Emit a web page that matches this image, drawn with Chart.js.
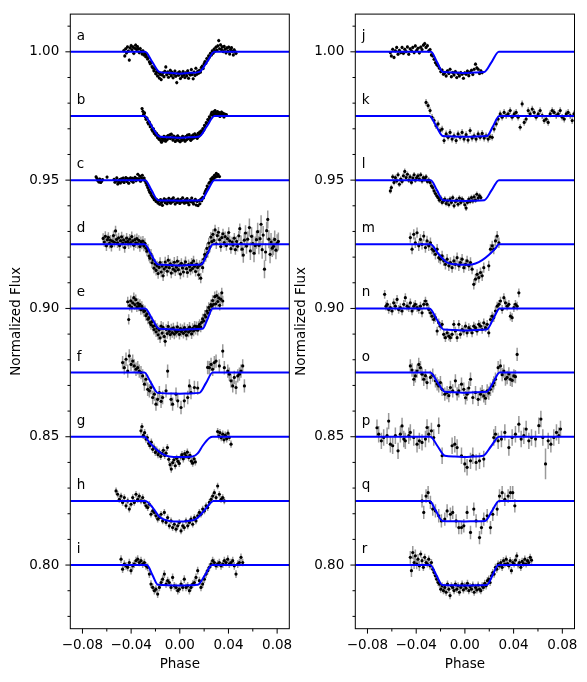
<!DOCTYPE html>
<html>
<head>
<meta charset="utf-8">
<script src="https://cdn.jsdelivr.net/npm/chart.js@4.4.1/dist/chart.umd.min.js"></script>
<style>
  body { margin: 0; background: #fff; width: 587px; height: 682px; position: relative; overflow: hidden; }
  canvas { position: absolute; top: 0; }
  #leftPanel { left: 0; }
  #rightPanel { left: 285px; }
</style>
</head>
<body>
<canvas id="leftPanel" width="300" height="682"></canvas>
<canvas id="rightPanel" width="302" height="682"></canvas>
<script>
// light curves: [phase, flux deviation in ppt, optional error in ppt]
const lettersLeft = ['a', 'b', 'c', 'd', 'e', 'f', 'g', 'h', 'i'];
const lettersRight = ['j', 'k', 'l', 'm', 'n', 'o', 'p', 'q', 'r'];
const curveOffsets = [0, 0.025, 0.05, 0.075, 0.1, 0.125, 0.15, 0.175, 0.2];
const errLeft = [0.7, 0.6, 0.6, 2.0, 2.0, 2.6, 1.4, 1.3, 1.5];
const errRight = [0.7, 1.3, 1.1, 2.0, 1.7, 2.6, 3.2, 2.6, 1.4];

const xMajorTicks = [-0.08, -0.04, 0, 0.04, 0.08];
const xTickLabels = ['−0.08', '−0.04', '0.00', '0.04', '0.08'];
const xMinorTicks = [-0.06, -0.02, 0.02, 0.06];
const yMajorTicks = [0.80, 0.85, 0.90, 0.95, 1.00];
const yTickLabels = ['0.80', '0.85', '0.90', '0.95', '1.00'];
const yMinorTicks = [0.78, 0.79, 0.81, 0.82, 0.83, 0.84, 0.86, 0.87, 0.88, 0.89, 0.91, 0.92, 0.93, 0.94, 0.96, 0.97, 0.98, 0.99, 1.01];

const lcA = [[-0.0460,0.5],[-0.0452,-1.6],[-0.0445,1.2],[-0.0438,-0.4],[-0.0430,1.9],[-0.0423,0.3],[-0.0415,-3.2],[-0.0408,1.5],[-0.0400,2.4],[-0.0393,0.8],[-0.0385,1.9],[-0.0378,-0.6],[-0.0370,1.4],[-0.0363,2.6],[-0.0355,0.9],[-0.0348,2.0],[-0.0340,1.1],[-0.0333,-0.3],[-0.0325,1.3],[-0.0318,0.2],[-0.0310,-0.8],[-0.0303,0.4],[-0.0295,-1.2],[-0.0288,-0.4],
[-0.0280,-1.9],[-0.0273,-1.0],[-0.0265,-2.8],[-0.0258,-2.2],[-0.0250,-3.9],[-0.0243,-4.6],[-0.0235,-4.1],[-0.0228,-5.8],[-0.0220,-6.3],[-0.0213,-7.4],[-0.0205,-6.6],[-0.0198,-8.5],[-0.0190,-7.7],[-0.0183,-9.4],[-0.0175,-8.1],[-0.0168,-10.2],[-0.0160,-8.8],[-0.0153,-10.8],[-0.0145,-9.0],
[-0.0138,-8.2],[-0.0130,-9.7],[-0.0123,-7.6],[-0.0115,-5.9],[-0.0108,-8.9],[-0.0100,-7.9],[-0.0093,-9.9],[-0.0085,-8.4],[-0.0078,-7.2],[-0.0070,-9.3],[-0.0063,-8.0],[-0.0055,-10.1],[-0.0048,-8.7],[-0.0040,-7.5],[-0.0033,-9.5],[-0.0025,-12.0],[-0.0018,-8.3],[-0.0010,-9.1],[-0.0003,-7.8],[0.0005,-10.4],[0.0012,-8.6],[0.0020,-9.6],[0.0027,-7.7],[0.0035,-8.9],[0.0042,-10.0],[0.0050,-8.2],[0.0057,-9.3],[0.0065,-7.4],[0.0072,-10.3],[0.0080,-8.5],[0.0087,-9.0],[0.0095,-6.9],[0.0102,-8.8],[0.0110,-10.5],[0.0117,-7.9],[0.0125,-9.2],[0.0132,-6.4],[0.0140,-8.7],[0.0147,-7.6],[0.0155,-8.3],
[0.0162,-7.2],[0.0170,-7.9],[0.0177,-6.1],[0.0185,-5.6],[0.0192,-6.5],[0.0200,-4.6],[0.0207,-3.8],[0.0215,-4.4],[0.0222,-2.6],[0.0230,-3.1],[0.0237,-1.6],[0.0245,-2.0],[0.0252,-0.6],[0.0260,-1.2],[0.0267,0.4],[0.0275,-0.5],[0.0282,1.1],
[0.0290,0.3],[0.0297,1.8],[0.0305,0.6],[0.0312,2.3],[0.0320,4.4],[0.0327,1.2],[0.0335,2.7],[0.0342,0.9],[0.0350,1.9],[0.0357,0.1],[0.0365,2.1],[0.0372,1.0],[0.0380,-0.4],[0.0387,1.5],[0.0395,0.3],[0.0402,1.8],[0.0410,-0.8],[0.0417,0.9],[0.0425,1.6],[0.0432,0.2],[0.0440,-1.2],[0.0447,0.8],[0.0455,0.1],[0.0462,-0.6]];

const lcB = [[-0.0310,2.9],[-0.0303,1.8],[-0.0297,0.7],[-0.0290,1.2],[-0.0283,-0.4],[-0.0277,-1.3],[-0.0270,-0.8],[-0.0263,-2.5],[-0.0257,-3.1],[-0.0250,-2.4],[-0.0243,-4.2],[-0.0237,-3.6],[-0.0230,-5.3],[-0.0223,-5.9],[-0.0217,-5.0],[-0.0210,-6.8],[-0.0203,-6.2],[-0.0197,-7.5],[-0.0190,-6.9],[-0.0183,-8.4],[-0.0177,-7.6],[-0.0170,-9.1],[-0.0163,-8.3],[-0.0157,-9.6],[-0.0150,-10.2],[-0.0143,-8.8],[-0.0137,-9.5],[-0.0130,-7.9],[-0.0123,-8.9],[-0.0117,-9.8],[-0.0110,-8.1],[-0.0103,-9.2],[-0.0097,-7.6],[-0.0090,-8.5],[-0.0083,-7.4],[-0.0077,-8.8],[-0.0070,-7.1],[-0.0063,-8.3],[-0.0057,-9.4],[-0.0050,-7.8],[-0.0043,-8.6],[-0.0037,-9.9],[-0.0030,-8.2],[-0.0023,-9.3],[-0.0017,-7.7],[-0.0010,-9.6],[-0.0003,-8.4],[0.0003,-10.0],[0.0010,-8.7],[0.0017,-9.5],[0.0023,-7.9],[0.0030,-9.1],[0.0037,-8.3],[0.0043,-9.8],[0.0050,-8.0],[0.0057,-9.2],[0.0063,-7.5],[0.0070,-8.8],[0.0077,-7.3],[0.0083,-8.6],[0.0090,-9.5],[0.0097,-7.8],[0.0103,-8.9],[0.0110,-7.4],[0.0117,-8.5],[0.0123,-7.0],[0.0130,-8.2],[0.0137,-7.6],[0.0143,-8.7],[0.0150,-6.8],[0.0157,-7.9],[0.0163,-6.3],[0.0170,-7.2],[0.0177,-5.8],[0.0183,-6.4],[0.0190,-4.9],[0.0197,-5.5],[0.0203,-3.7],[0.0210,-4.2],[0.0217,-2.6],[0.0223,-2.9],[0.0230,-1.4],[0.0237,-1.8],[0.0243,-0.3],[0.0250,-0.9],[0.0257,0.6],[0.0263,1.4],[0.0270,0.2],[0.0277,1.6],[0.0283,0.8],[0.0290,2.1],[0.0297,1.1],[0.0303,0.4],[0.0310,1.7],[0.0317,0.6],[0.0323,1.3],[0.0330,-0.2],[0.0337,0.9],[0.0343,1.5],[0.0350,0.3],[0.0357,1.0],[0.0363,-0.4],[0.0370,0.7],[0.0377,0.2],[0.0383,0.5]];

const lcC = [[-0.0688,1.3],[-0.0680,0.6],[-0.0673,-0.2],[-0.0665,-0.7],[-0.0658,0.4],[-0.0650,-0.9],[-0.0643,-0.4],[-0.0635,0.2],[-0.0598,1.2],
[-0.0540,0.3],[-0.0533,-0.8],[-0.0525,-0.3],[-0.0518,0.9],[-0.0510,-1.5],[-0.0503,-0.6],[-0.0495,0.2],[-0.0488,-1.1],[-0.0480,0.5],[-0.0473,-0.4],[-0.0465,0.8],[-0.0458,-0.9],[-0.0450,0.1],[-0.0443,1.0],[-0.0435,-0.5],[-0.0428,0.6],[-0.0420,-1.2],[-0.0413,0.3],[-0.0405,0.9],[-0.0398,-0.3],[-0.0390,0.7],[-0.0383,-0.8],[-0.0375,0.4],[-0.0368,1.1],[-0.0360,-0.2],[-0.0353,0.6],[-0.0345,2.3],[-0.0338,0.5],[-0.0330,1.6],[-0.0323,-0.4],[-0.0315,0.9],[-0.0308,1.9],[-0.0300,0.2],[-0.0293,0.8],[-0.0285,-0.3],
[-0.0278,-1.1],[-0.0270,-2.0],[-0.0263,-2.9],[-0.0255,-3.8],[-0.0248,-4.6],[-0.0240,-5.1],[-0.0233,-5.9],[-0.0225,-6.5],[-0.0218,-6.9],[-0.0210,-7.6],[-0.0203,-7.2],[-0.0195,-8.3],[-0.0188,-7.7],[-0.0180,-8.9],
[-0.0173,-8.1],[-0.0165,-9.4],[-0.0158,-7.6],[-0.0150,-8.7],[-0.0143,-9.8],[-0.0135,-8.0],[-0.0128,-7.3],[-0.0120,-8.8],[-0.0113,-7.7],[-0.0105,-9.2],[-0.0098,-8.3],[-0.0090,-7.1],[-0.0083,-8.6],[-0.0075,-9.0],[-0.0068,-7.5],[-0.0060,-8.4],[-0.0053,-6.9],[-0.0045,-8.1],[-0.0038,-9.3],[-0.0030,-7.8],[-0.0023,-8.7],[-0.0015,-7.4],[-0.0008,-8.2],[0.0000,-9.1],[0.0008,-7.6],[0.0015,-8.5],[0.0023,-6.9],[0.0030,-8.3],[0.0038,-9.0],[0.0045,-7.7],[0.0053,-8.6],[0.0060,-7.2],[0.0068,-8.8],[0.0075,-9.6],[0.0083,-7.9],[0.0090,-8.4],[0.0098,-7.0],[0.0105,-8.6],[0.0113,-9.3],[0.0120,-8.1],[0.0128,-7.5],[0.0135,-9.7],[0.0143,-8.3],[0.0150,-9.9],[0.0158,-8.0],[0.0165,-9.2],[0.0173,-7.4],
[0.0180,-8.0],[0.0188,-6.7],[0.0195,-6.9],[0.0203,-5.2],[0.0210,-4.4],[0.0218,-3.6],[0.0225,-2.3],[0.0233,-2.8],[0.0240,-1.2],[0.0248,-0.8],[0.0255,0.4],[0.0263,-0.1],[0.0270,1.1],[0.0278,0.6],[0.0285,1.9],[0.0293,1.2],[0.0300,2.6],[0.0308,1.5],[0.0315,2.2],[0.0326,1.4]];

const lcD = [[-0.0630,2.3],[-0.0620,0.9],[-0.0612,3.1],[-0.0603,-0.6],[-0.0595,1.8],[-0.0587,2.7],[-0.0578,0.4],[-0.0570,1.6],[-0.0562,-0.8],[-0.0553,1.2],[-0.0545,3.4],[-0.0537,0.8],[-0.0528,5.2],[-0.0520,1.9],[-0.0512,0.6],[-0.0503,2.5],[-0.0495,-0.5],[-0.0487,1.4],[-0.0478,2.9],[-0.0470,0.5],[-0.0462,1.7],[-0.0453,-1.3],[-0.0445,0.9],[-0.0437,2.4],[-0.0428,1.1],[-0.0420,0.2],[-0.0412,2.0],[-0.0403,0.7],[-0.0395,3.0],[-0.0387,1.3],[-0.0378,-0.4],[-0.0370,1.8],[-0.0362,0.6],[-0.0353,2.2],[-0.0345,0.3],[-0.0337,1.5],[-0.0328,-0.9],[-0.0320,1.0],[-0.0312,0.1],[-0.0303,1.2],[-0.0295,-0.7],[-0.0287,0.4],
[-0.0278,-1.5],[-0.0270,-2.7],[-0.0262,-1.9],[-0.0253,-4.6],[-0.0245,-5.4],[-0.0237,-3.8],[-0.0228,-7.2],[-0.0220,-6.1],[-0.0212,-9.3],[-0.0203,-7.7],[-0.0195,-10.2],[-0.0187,-8.4],
[-0.0178,-11.4],[-0.0170,-9.0],[-0.0162,-7.1],[-0.0153,-10.8],[-0.0145,-8.5],[-0.0137,-12.3],[-0.0128,-9.6],[-0.0120,-6.9],[-0.0112,-8.8],[-0.0103,-10.5],[-0.0095,-6.2],[-0.0087,-9.1],[-0.0078,-7.6],[-0.0070,-11.2],[-0.0062,-8.3],[-0.0053,-9.7],[-0.0045,-7.0],[-0.0037,-10.4],[-0.0028,-8.9],[-0.0020,-6.6],[-0.0012,-9.9],[-0.0003,-8.1],[0.0005,-11.6],[0.0013,-7.4],[0.0022,-9.2],[0.0030,-10.8],[0.0038,-8.0],[0.0047,-6.8],[0.0055,-9.5],[0.0063,-11.0],[0.0072,-7.9],[0.0080,-8.7],[0.0088,-10.1],[0.0097,-7.3],[0.0105,-9.4],[0.0113,-6.5],[0.0122,-8.6],[0.0130,-10.6],[0.0138,-7.8],[0.0147,-9.0],[0.0155,-11.9],[0.0163,-8.2],[0.0172,-13.2],
[0.0180,-7.5],[0.0188,-9.1],[0.0197,-5.8],[0.0205,-3.9],[0.0213,-4.8],[0.0222,-1.6],[0.0230,-3.2],[0.0238,0.5],[0.0247,-1.1],[0.0255,2.8],[0.0263,1.0],[0.0272,3.9],
[0.0280,1.5],[0.0290,5.6],[0.0300,0.2],[0.0308,3.4],[0.0318,4.7],[0.0327,1.8],[0.0337,-0.9],[0.0345,2.6],[0.0355,4.1],[0.0365,0.7],[0.0373,3.0],[0.0383,-0.5],[0.0392,2.2],[0.0402,4.6],[0.0410,1.3],[0.0420,-1.7],[0.0430,0.9],[0.0438,-0.3],[0.0448,2.4],[0.0457,-2.1],[0.0467,1.1],[0.0475,-0.8],[0.0485,3.3],[0.0493,6.1],
[0.0503,0.4,3],[0.0512,-1.9,3],[0.0522,-4.2,3],[0.0530,1.6,3],[0.0540,4.4,3],[0.0548,-0.7,3],[0.0558,2.0,3],[0.0572,6.5,3.5],[0.0580,-2.6,3.5],[0.0590,3.1,3.5],[0.0600,0.3,3.5],[0.0610,-3.5,3.5],[0.0620,-0.5,3.5],[0.0630,1.8,3.5],[0.0640,4.9,3.5],[0.0650,-0.4,3.5],[0.0660,2.2,3.5],[0.0668,7.8,3.5],[0.0677,-2.1,3.5],[0.0685,3.6,3.5],[0.0696,-9.7,3.5],[0.0705,-3.0,3.5],[0.0714,5.3,3.5],[0.0723,9.7,3.5],[0.0732,2.0,3.5],[0.0742,-3.9,3.5],[0.0750,0.9,3.5],[0.0760,-1.5,3.5],[0.0770,-0.8,3.5],[0.0780,1.9,3.5],[0.0790,-2.3,3.5],[0.0800,0.4,3.5],[0.0810,1.1,3.5]];

const lcE = [[-0.0428,2.6],[-0.0420,-4.3],[-0.0412,1.1],[-0.0403,3.0],[-0.0395,0.4],[-0.0387,2.2],[-0.0378,4.2],[-0.0370,1.5],[-0.0362,3.4],[-0.0353,0.6],[-0.0345,2.0],[-0.0337,0.9],[-0.0328,1.6],[-0.0320,-0.5],[-0.0312,0.8],[-0.0303,-0.3],[-0.0295,-1.2],
[-0.0287,-0.9],[-0.0278,-2.8],[-0.0270,-2.1],[-0.0262,-4.2],[-0.0253,-3.6],[-0.0245,-5.5],[-0.0237,-6.3],[-0.0228,-5.1],[-0.0220,-7.0],[-0.0212,-8.2],[-0.0203,-6.6],[-0.0195,-9.1],[-0.0187,-7.7],
[-0.0178,-10.3],[-0.0170,-8.4],[-0.0162,-11.5],[-0.0153,-6.9],[-0.0145,-9.6],[-0.0137,-7.4],[-0.0128,-10.9],[-0.0120,-12.8],[-0.0112,-8.2],[-0.0103,-9.8],[-0.0095,-7.0],[-0.0087,-8.9],[-0.0078,-10.2],[-0.0070,-8.0],[-0.0062,-9.4],[-0.0053,-7.6],[-0.0045,-10.0],[-0.0037,-8.6],[-0.0028,-9.3],[-0.0020,-7.2],[-0.0012,-8.8],[-0.0003,-10.1],[0.0005,-7.9],[0.0013,-9.0],[0.0022,-8.3],[0.0030,-9.7],[0.0038,-7.5],[0.0047,-8.9],[0.0055,-10.4],[0.0063,-8.1],[0.0072,-9.2],[0.0080,-7.3],[0.0088,-8.6],[0.0097,-9.9],[0.0105,-7.8],[0.0113,-8.8],[0.0122,-6.9],[0.0130,-8.2],[0.0138,-7.1],[0.0147,-8.5],[0.0155,-7.0],
[0.0163,-6.2],[0.0172,-7.3],[0.0180,-5.4],[0.0188,-4.1],[0.0197,-4.9],[0.0205,-2.6],[0.0213,-3.3],[0.0222,-1.0],[0.0230,-1.8],[0.0238,0.4],[0.0247,-0.6],[0.0255,1.5],
[0.0262,0.9],[0.0270,3.1],[0.0278,1.6],[0.0287,4.6],[0.0295,1.8],[0.0303,5.0],[0.0312,2.7],[0.0320,4.1],[0.0328,1.2],[0.0337,3.6],[0.0345,6.1],[0.0353,2.9]];

const lcF = [[-0.0470,3.9],[-0.0456,1.9],[-0.0442,5.2],[-0.0428,0.6],[-0.0415,6.5],[-0.0401,3.2],[-0.0387,4.5],[-0.0374,2.6],[-0.0360,1.3],[-0.0346,1.9],[-0.0333,0.6],[-0.0319,0.0],[-0.0305,-1.3],[-0.0291,-4.5],[-0.0278,-2.6],[-0.0264,-6.5],[-0.0250,-7.1],[-0.0237,-5.8],[-0.0223,-9.7],[-0.0209,-8.4],[-0.0196,-12.3],[-0.0182,-10.4],[-0.0168,-7.8],[-0.0154,-11.2],[-0.0141,-9.7],[-0.0113,-7.1],[-0.0100,0.6],[-0.0072,-10.4],[-0.0059,-12.3],[-0.0031,-8.4],[-0.0017,-11.0],[0.0010,-13.6],[0.0037,-11.0],[0.0065,-9.7],[0.0079,-5.2],[0.0092,-7.8],[0.0120,-5.8],[0.0147,-6.0],
[0.0229,2.0],[0.0243,1.9],[0.0257,3.2],[0.0270,1.3],[0.0284,3.9],[0.0298,4.5],[0.0325,2.6],[0.0353,8.4],[0.0366,1.9],[0.0394,0.6],[0.0407,-0.6],[0.0421,-3.2],[0.0435,-5.2],[0.0448,-1.9],[0.0462,-5.8],[0.0476,-1.3],[0.0490,-0.6],[0.0503,0.6],[0.0517,2.6],[0.0531,-5.2]];

const lcG = [[-0.0319,2.3],[-0.0311,4.0],[-0.0300,0.5],[-0.0289,1.6],[-0.0278,-0.9],[-0.0267,-0.3],[-0.0256,-2.6],[-0.0245,-3.5],[-0.0234,-2.1],[-0.0223,-4.9],[-0.0212,-4.0],[-0.0201,-6.1],[-0.0190,-5.2],[-0.0179,-7.0],[-0.0168,-6.0],[-0.0157,-7.7],[-0.0146,-6.5],[-0.0135,-5.3],[-0.0124,-7.3],[-0.0113,-6.4],[-0.0102,-4.2],[-0.0091,-8.8],[-0.0080,-10.9],[-0.0070,-12.6],[-0.0059,-10.1],[-0.0048,-9.0],[-0.0037,-11.3],[-0.0026,-8.4],[-0.0015,-9.6],[-0.0004,-10.4],[0.0007,-7.9],[0.0018,-7.0],[0.0029,-8.6],[0.0040,-6.6],[0.0051,-7.4],[0.0062,-6.0],[0.0073,-8.1],[0.0084,-7.2],[0.0095,-9.5],[0.0106,-10.3],[0.0117,-8.6],[0.0128,-9.8],
[0.0311,2.0],[0.0320,0.3],[0.0330,1.6],[0.0341,-0.4],[0.0353,1.0],[0.0363,-1.2],[0.0374,0.6],[0.0385,-0.8],[0.0396,1.4],[0.0407,-0.3],[0.0421,-2.9]];

const lcH = [[-0.0524,3.9],[-0.0511,2.6],[-0.0497,0.6],[-0.0483,1.9],[-0.0470,-0.6],[-0.0456,1.3],[-0.0442,-1.9],[-0.0428,0.0],[-0.0415,-3.2],[-0.0401,-1.3],[-0.0387,1.3],[-0.0374,-0.6],[-0.0360,2.6],[-0.0346,0.6],[-0.0333,1.9],[-0.0319,0.0],[-0.0305,1.3],[-0.0291,-0.6],[-0.0278,-1.9],[-0.0264,-2.6],[-0.0250,-1.3],[-0.0237,-5.2],[-0.0223,-3.9],[-0.0209,-4.5],[-0.0196,-5.8],[-0.0182,-7.1],[-0.0168,-6.5],[-0.0154,-5.2],[-0.0141,-7.8],[-0.0127,-4.5],[-0.0113,-8.4],[-0.0100,-6.5],[-0.0086,-9.7],[-0.0072,-7.8],[-0.0059,-10.4],[-0.0045,-9.1],[-0.0031,-11.0],[-0.0017,-9.7],[-0.0004,-8.4],[0.0010,-11.7],[0.0024,-9.7],[0.0037,-10.4],[0.0051,-7.8],[0.0065,-9.7],[0.0079,-8.4],[0.0092,-7.1],[0.0106,-9.1],[0.0120,-6.5],[0.0133,-7.8],[0.0147,-5.8],[0.0161,-4.5],[0.0174,-5.2],[0.0188,-3.2],[0.0202,-3.9],[0.0216,-1.9],[0.0229,-2.6],[0.0243,-0.6],[0.0257,0.6],[0.0270,1.9],[0.0284,3.2],[0.0298,1.3],[0.0311,5.8],[0.0325,2.6],[0.0339,0.6],[0.0353,1.3],[0.0366,0.0]];

const lcI = [[-0.0483,2.3],[-0.0470,-1.6],[-0.0456,0.4],[-0.0442,-0.3],[-0.0428,-0.9],[-0.0415,1.0],[-0.0401,-2.2],[-0.0387,-0.3],[-0.0374,0.4],[-0.0360,1.7],[-0.0346,2.3],[-0.0333,1.0],[-0.0319,1.7],[-0.0305,0.4],[-0.0291,1.0],[-0.0278,-0.3],[-0.0264,-0.9],[-0.0250,-3.5],[-0.0237,-7.4],[-0.0223,-8.7],[-0.0209,-10.0],[-0.0196,-9.4],[-0.0182,-11.3],[-0.0168,-8.7],[-0.0154,-6.8],[-0.0141,-5.5],[-0.0127,-3.5],[-0.0113,-7.4],[-0.0100,-6.1],[-0.0086,-6.8],[-0.0072,-8.7],[-0.0059,-4.8],[-0.0045,-8.1],[-0.0031,-8.7],[-0.0017,-10.0],[-0.0004,-9.4],[0.0010,-7.4],[0.0024,-8.7],[0.0037,-5.5],[0.0051,-8.7],[0.0065,-8.1],[0.0079,-10.0],[0.0092,-8.7],[0.0106,-7.4],[0.0120,-6.8],[0.0133,-4.8],[0.0147,-2.2],[0.0161,-6.1],[0.0174,-8.7],[0.0188,-7.4],[0.0202,-5.5],[0.0216,-3.5],[0.0229,-2.2],[0.0243,-0.9],[0.0257,0.4],[0.0270,1.7],[0.0284,1.0],[0.0298,-0.3],[0.0311,0.4],[0.0325,1.0],[0.0339,-0.3],[0.0353,0.4],[0.0366,1.7],[0.0380,1.0],[0.0394,2.3],[0.0407,0.4],[0.0421,1.0],[0.0435,1.7],[0.0448,-0.3],[0.0462,-3.5],[0.0476,0.4],[0.0490,1.0],[0.0503,3.0],[0.0517,1.0]];

const lcJ = [[-0.0612,-0.3],[-0.0604,-1.6],[-0.0593,1.0],[-0.0582,-2.2],[-0.0571,0.4],[-0.0560,1.7],[-0.0549,-0.9],[-0.0538,0.6],[-0.0527,-0.3],[-0.0516,1.7],[-0.0505,-0.6],[-0.0494,1.0],[-0.0483,0.1],[-0.0472,1.9],[-0.0461,-0.9],[-0.0450,1.2],[-0.0439,0.4],[-0.0428,1.7],[-0.0417,-0.3],[-0.0407,2.3],[-0.0396,0.6],[-0.0385,1.4],[-0.0374,-0.4],[-0.0363,1.8],[-0.0352,0.9],[-0.0341,2.6],[-0.0330,3.2],[-0.0319,1.7],[-0.0308,2.4],[-0.0297,0.4],[-0.0286,0.9],[-0.0275,-1.2],[-0.0264,-1.6],[-0.0253,-2.9],[-0.0242,-4.2],[-0.0231,-5.0],[-0.0220,-5.5],[-0.0209,-6.4],[-0.0198,-7.7],[-0.0187,-7.1],[-0.0176,-8.7],[-0.0165,-8.1],[-0.0154,-9.4],[-0.0143,-7.4],[-0.0132,-8.4],[-0.0122,-6.8],[-0.0111,-9.7],[-0.0100,-8.1],[-0.0089,-9.0],[-0.0078,-7.7],[-0.0067,-10.0],[-0.0056,-8.4],[-0.0045,-9.4],[-0.0034,-8.1],[-0.0023,-8.7],[-0.0012,-10.3],[-0.0001,-8.2],[0.0010,-8.7],[0.0021,-7.5],[0.0032,-9.3],[0.0043,-8.0],[0.0054,-7.2],[0.0065,-8.8],[0.0076,-6.8],[0.0087,-4.8],[0.0098,-6.2],[0.0109,-6.8],[0.0120,-8.4],[0.0131,-7.4],[0.0142,-8.1]];

const lcK = [[-0.0319,5.3],[-0.0302,4.0],[-0.0286,2.1],[-0.0270,-0.5],[-0.0253,-1.8],[-0.0237,-3.8],[-0.0220,-3.1],[-0.0204,-5.7],[-0.0187,-5.1],[-0.0171,-9.6],[-0.0154,-7.0],[-0.0138,-8.3],[-0.0122,-6.4],[-0.0105,-9.0],[-0.0089,-7.7],[-0.0072,-9.6],[-0.0056,-7.0],[-0.0039,-8.3],[-0.0023,-6.4],[-0.0007,-9.0],[0.0010,-7.3],[0.0026,-9.4],[0.0043,-5.7],[0.0059,-8.6],[0.0076,-7.7],[0.0092,-9.0],[0.0109,-7.0],[0.0125,-8.3],[0.0142,-6.8],[0.0158,-8.6],[0.0174,-7.7],[0.0191,-9.0],[0.0207,-8.1],[0.0224,-8.3],[0.0240,-5.1],[0.0257,-3.1],[0.0273,-1.2],[0.0290,0.8],[0.0306,-0.5],[0.0322,1.4],[0.0339,0.1],[0.0355,0.8],[0.0372,2.1],[0.0388,-0.5],[0.0405,0.8],[0.0421,1.4],[0.0437,-0.5],[0.0454,-4.4],[0.0470,4.7],[0.0487,-2.5],[0.0503,-1.2],[0.0520,2.1],[0.0536,0.8],[0.0553,2.7],[0.0569,1.4],[0.0585,-0.5],[0.0602,0.8],[0.0618,2.1],[0.0635,0.1],[0.0651,-1.8],[0.0668,-1.2],[0.0684,-2.5],[0.0700,0.8],[0.0717,2.1],[0.0733,1.4],[0.0750,0.1],[0.0766,0.8],[0.0783,2.1],[0.0799,-0.5],[0.0816,-1.2],[0.0832,0.8],[0.0848,1.4],[0.0865,0.1],[0.0881,-1.8],[0.0895,0.8]];

const lcL = [[-0.0612,-4.2],[-0.0604,-2.9],[-0.0593,1.3],[-0.0582,-0.9],[-0.0571,1.0],[-0.0560,-0.3],[-0.0549,2.1],[-0.0538,-1.6],[-0.0527,0.4],[-0.0516,-0.5],[-0.0505,1.7],[-0.0494,3.4],[-0.0483,1.0],[-0.0472,2.3],[-0.0461,0.0],[-0.0450,1.3],[-0.0439,-0.9],[-0.0428,0.8],[-0.0417,2.1],[-0.0407,0.0],[-0.0396,1.0],[-0.0385,1.7],[-0.0374,0.4],[-0.0363,2.1],[-0.0352,-0.3],[-0.0341,1.0],[-0.0330,0.4],[-0.0319,1.3],[-0.0308,-0.5],[-0.0297,0.0],[-0.0286,-0.9],[-0.0275,-2.2],[-0.0264,-2.9],[-0.0253,-4.2],[-0.0242,-5.2],[-0.0231,-6.1],[-0.0220,-6.8],[-0.0209,-7.8],[-0.0198,-7.0],[-0.0187,-8.7],[-0.0176,-8.1],[-0.0165,-7.4],[-0.0154,-9.1],[-0.0143,-8.1],[-0.0132,-9.6],[-0.0122,-7.4],[-0.0111,-8.7],[-0.0100,-6.8],[-0.0089,-10.0],[-0.0078,-8.3],[-0.0067,-7.8],[-0.0056,-9.4],[-0.0045,-7.0],[-0.0034,-8.7],[-0.0023,-7.4],[-0.0012,-8.1],[-0.0001,-9.6],[0.0010,-10.9],[0.0021,-8.7],[0.0032,-7.4],[0.0043,-8.3],[0.0054,-6.8],[0.0065,-8.1],[0.0076,-6.5],[0.0087,-7.8],[0.0098,-5.5],[0.0109,-7.0],[0.0120,-6.1],[0.0131,-6.8]];

const lcM = [[-0.0448,2.6],[-0.0434,-1.9],[-0.0420,3.9],[-0.0407,0.6],[-0.0393,4.5],[-0.0379,-0.6],[-0.0365,1.9],[-0.0352,0.0],[-0.0338,3.2],[-0.0324,-1.3],[-0.0311,1.3],[-0.0297,-0.6],[-0.0283,0.6],[-0.0270,-1.9],[-0.0256,-2.6],[-0.0242,-3.9],[-0.0228,-1.9],[-0.0215,-5.2],[-0.0201,-5.8],[-0.0187,-4.5],[-0.0174,-6.5],[-0.0160,-7.8],[-0.0146,-5.8],[-0.0132,-8.4],[-0.0119,-7.1],[-0.0105,-9.1],[-0.0091,-6.5],[-0.0078,-7.8],[-0.0064,-5.2],[-0.0050,-8.4],[-0.0037,-7.1],[-0.0023,-5.8],[-0.0009,-9.1],[0.0005,-7.8],[0.0018,-6.5],[0.0032,-8.4],[0.0046,-7.1],[0.0059,-9.7],[0.0073,-15.6],[0.0087,-13.6],[0.0100,-11.7],[0.0114,-13.0],[0.0128,-11.0],[0.0142,-12.3],[0.0155,-9.1],[0.0196,-8.4],[0.0210,-1.9],[0.0224,-0.6],[0.0237,-1.9],[0.0251,1.3],[0.0265,3.2],[0.0279,0.6]];

const lcN = [[-0.0659,5.5],[-0.0648,0.9],[-0.0637,1.6],[-0.0626,-0.4],[-0.0612,0.3],[-0.0598,-1.0],[-0.0585,2.2],[-0.0571,0.9],[-0.0557,3.5],[-0.0544,-0.4],[-0.0530,0.3],[-0.0516,-1.0],[-0.0502,1.6],[-0.0489,4.2],[-0.0475,0.9],[-0.0461,0.3],[-0.0448,2.2],[-0.0434,-1.0],[-0.0420,0.9],[-0.0407,1.6],[-0.0393,0.3],[-0.0379,-0.4],[-0.0365,0.9],[-0.0352,-1.7],[-0.0338,1.6],[-0.0324,2.9],[-0.0311,1.6],[-0.0297,-0.4],[-0.0283,-1.7],[-0.0270,-3.0],[-0.0256,-4.3],[-0.0242,-3.6],[-0.0228,-8.8],[-0.0215,-5.6],[-0.0201,-6.9],[-0.0187,-6.2],[-0.0174,-10.1],[-0.0160,-11.4],[-0.0146,-9.5],[-0.0132,-10.8],[-0.0119,-11.4],[-0.0105,-10.1],[-0.0091,-6.2],[-0.0078,-8.8],[-0.0064,-11.4],[-0.0050,-6.2],[-0.0037,-10.1],[-0.0023,-8.2],[-0.0009,-8.8],[0.0005,-6.9],[0.0018,-9.5],[0.0032,-7.5],[0.0046,-8.2],[0.0059,-9.5],[0.0073,-6.9],[0.0087,-7.5],[0.0100,-8.8],[0.0114,-6.2],[0.0128,-6.9],[0.0142,-8.2],[0.0155,-5.6],[0.0169,-7.5],[0.0183,-6.2],[0.0196,-9.5],[0.0210,-4.3],[0.0224,-3.0],[0.0237,-3.6],[0.0251,-1.0],[0.0265,0.9],[0.0279,1.6],[0.0292,2.9],[0.0306,-0.4],[0.0320,4.2],[0.0333,2.2],[0.0347,0.9],[0.0361,1.6],[0.0374,-3.0],[0.0388,-3.6],[0.0402,0.3],[0.0415,1.6],[0.0429,0.9],[0.0443,6.1]];

const lcO = [[-0.0448,2.6],[-0.0434,1.0],[-0.0420,-2.6],[-0.0407,-1.3],[-0.0393,0.6],[-0.0379,3.2],[-0.0365,1.9],[-0.0352,-0.6],[-0.0338,-2.6],[-0.0324,-1.2],[-0.0311,-3.9],[-0.0283,-1.9],[-0.0264,-1.0],[-0.0242,-3.2],[-0.0228,-4.4],[-0.0215,-5.2],[-0.0201,-3.9],[-0.0187,-6.5],[-0.0165,-8.4],[-0.0146,-7.8],[-0.0132,-9.0],[-0.0119,-5.8],[-0.0100,-7.1],[-0.0078,-3.2],[-0.0064,-8.3],[-0.0050,-7.1],[-0.0028,-4.5],[-0.0009,-6.5],[0.0005,-9.8],[0.0018,-8.4],[0.0032,-6.0],[0.0046,-2.6],[0.0065,-9.7],[0.0087,-7.8],[0.0109,-10.4],[0.0128,-8.4],[0.0142,-7.4],[0.0155,-9.1],[0.0169,-10.0],[0.0183,-7.1],[0.0196,-8.0],[0.0210,-6.5],[0.0229,-5.2],[0.0237,-4.0],[0.0251,-2.6],[0.0273,1.9],[0.0292,2.6],[0.0306,-0.8],[0.0320,0.6],[0.0333,-2.5],[0.0347,-1.9],[0.0361,-0.5],[0.0374,-2.6],[0.0388,-3.0],[0.0402,-1.3],[0.0415,-1.6],[0.0429,7.1]];

const lcP = [[-0.0722,3.5],[-0.0708,1.0],[-0.0686,-1.6],[-0.0667,-0.3],[-0.0639,0.4],[-0.0626,6.1],[-0.0612,-2.9],[-0.0593,-3.5],[-0.0571,0.4],[-0.0549,-5.5],[-0.0530,1.0],[-0.0516,4.2],[-0.0502,-0.9],[-0.0489,-1.6],[-0.0461,0.4],[-0.0448,1.7],[-0.0420,-0.3],[-0.0393,-2.9],[-0.0374,-1.6],[-0.0352,-2.2],[-0.0324,-0.9],[-0.0311,3.6],[-0.0297,1.0],[-0.0275,2.3],[-0.0256,-0.3],[-0.0215,4.3],[-0.0187,-7.4],[-0.0105,-3.5],[-0.0083,-2.9],[-0.0064,-4.2],[-0.0028,-7.4],[-0.0001,-10.6],[0.0018,-11.9],[0.0046,-9.4],[0.0065,-7.4],[0.0092,-10.0],[0.0120,-9.4],[0.0155,-8.7],[0.0237,-0.3],[0.0251,1.0],[0.0273,-1.6],[0.0300,-0.9],[0.0328,1.7],[0.0361,-4.2],[0.0388,-0.3],[0.0415,1.0],[0.0443,4.9],[0.0462,-0.9],[0.0484,0.4],[0.0503,3.0],[0.0525,-1.6],[0.0547,-0.3],[0.0580,-0.9],[0.0607,4.3],[0.0624,6.9],[0.0640,-0.3],[0.0662,-10.6,6],[0.0684,-1.6],[0.0706,-2.9],[0.0730,-0.3],[0.0752,1.7],[0.0771,0.4],[0.0785,3.0]];

const lcQ = [[-0.0352,0.0],[-0.0338,-4.5],[-0.0319,1.9],[-0.0302,3.2],[-0.0283,-0.6],[-0.0264,-3.2],[-0.0242,-3.9],[-0.0215,-5.8],[-0.0193,-7.8],[-0.0165,-7.1],[-0.0146,-3.9],[-0.0119,-5.2],[-0.0100,-4.5],[-0.0072,-7.8],[-0.0050,-10.4],[-0.0028,-10.4],[-0.0009,-9.7],[0.0018,-4.5],[0.0046,-12.3],[0.0073,-3.2],[0.0092,-7.8],[0.0120,-14.3],[0.0136,-10.4],[0.0155,-7.1],[0.0183,-5.8],[0.0210,-10.4],[0.0229,-5.2],[0.0265,-3.2],[0.0284,1.9],[0.0306,3.2],[0.0328,0.6],[0.0355,1.9],[0.0374,3.2],[0.0393,3.2],[0.0410,-1.9]];

const lcR = [[-0.0448,3.0,2.5],[-0.0439,-2.2,2.5],[-0.0428,4.9,2.5],[-0.0417,1.0,2.5],[-0.0407,3.6,2.5],[-0.0396,0.4,2],[-0.0385,2.3,2],[-0.0374,-0.3,2],[-0.0363,4.3],[-0.0352,1.7],[-0.0341,-0.9],[-0.0330,3.0],[-0.0319,1.0],[-0.0308,0.4],[-0.0297,2.3],[-0.0286,-0.3],[-0.0275,1.0],[-0.0264,-1.6],[-0.0253,-2.9],[-0.0242,-4.2],[-0.0231,-5.5],[-0.0220,-6.8],[-0.0209,-7.4],[-0.0198,-9.4],[-0.0187,-8.1],[-0.0176,-10.0],[-0.0165,-8.7],[-0.0154,-10.6],[-0.0143,-7.4],[-0.0132,-9.4],[-0.0122,-11.9],[-0.0111,-8.1],[-0.0100,-8.7],[-0.0089,-10.0],[-0.0078,-7.4],[-0.0067,-9.4],[-0.0056,-8.1],[-0.0045,-10.6],[-0.0034,-8.7],[-0.0023,-7.4],[-0.0012,-9.7],[-0.0001,-8.1],[0.0010,-9.0],[0.0021,-7.1],[0.0032,-10.0],[0.0043,-8.4],[0.0054,-9.4],[0.0065,-7.8],[0.0076,-10.6],[0.0087,-8.7],[0.0098,-9.7],[0.0109,-7.8],[0.0120,-9.4],[0.0131,-10.0],[0.0142,-8.1],[0.0152,-8.7],[0.0163,-7.1],[0.0174,-8.1],[0.0185,-6.1],[0.0196,-5.5],[0.0207,-6.8],[0.0218,-4.2],[0.0229,-2.9],[0.0240,-3.5],[0.0251,-0.9],[0.0262,-1.6],[0.0273,0.4],[0.0284,-0.3],[0.0295,1.0],[0.0306,-0.9],[0.0317,1.7],[0.0328,0.4],[0.0339,2.3],[0.0350,0.6],[0.0361,-0.3],[0.0372,1.7],[0.0382,-2.2],[0.0393,1.0],[0.0404,0.4],[0.0415,1.9],[0.0426,3.6],[0.0437,0.1],[0.0448,1.0],[0.0459,-0.9],[0.0470,1.4],[0.0481,0.6],[0.0492,2.3],[0.0503,0.4],[0.0514,1.7],[0.0525,1.0],[0.0536,3.0],[0.0547,1.9]];

// transit models: [phase, flux deviation in ppt]
const modelA = [[-0.09,0],[-0.0285,0],[-0.0227,-3.9],[-0.0168,-7.8],[-0.0084,-8.2],[0,-8.5],[0.0081,-8.2],[0.0162,-7.8],[0.0224,-3.9],[0.0285,0],[0.09,0]];
const modelB = [[-0.09,0],[-0.029,0],[-0.023,-4.0],[-0.017,-8.0],[-0.0085,-8.3],[0,-8.5],[0.008,-8.3],[0.016,-8.0],[0.0223,-4.0],[0.0285,0],[0.09,0]];
const modelC = [[-0.09,0],[-0.0285,0],[-0.0233,-3.9],[-0.018,-7.8],[-0.009,-7.9],[0,-8.0],[0.0088,-7.9],[0.0175,-7.8],[0.023,-3.9],[0.0285,0],[0.09,0]];
const modelD = [[-0.09,0],[-0.029,0],[-0.0235,-4.0],[-0.018,-7.9],[-0.009,-8.1],[0,-8.3],[0.0088,-8.1],[0.0175,-7.9],[0.0224,-4.0],[0.0272,0],[0.09,0]];
const modelE = [[-0.09,0],[-0.0285,0],[-0.0228,-4.0],[-0.017,-7.9],[-0.0085,-8.1],[0,-8.3],[0.0094,-8.1],[0.0188,-7.9],[0.0229,-4.0],[0.027,0],[0.09,0]];
const modelF = [[-0.09,0],[-0.0291,0],[-0.0237,-4.0],[-0.0182,-7.9],[-0.0091,-8.1],[0,-8.2],[0.008,-8.1],[0.0161,-7.9],[0.0216,-4.0],[0.027,0],[0.09,0]];
const modelG = [[-0.09,0],[-0.0291,0],[-0.025,-2.2],[-0.0196,-4.8],[-0.0141,-6.8],[-0.0086,-7.7],[0,-7.9],[0.0106,-7.7],[0.0147,-6.5],[0.0188,-3.5],[0.0243,-0.5],[0.0272,0],[0.09,0]];
const modelH = [[-0.09,0],[-0.0285,0],[-0.0223,-2.6],[-0.0168,-6.2],[-0.0086,-7.8],[0,-8.0],[0.0065,-7.8],[0.0133,-7.1],[0.0188,-4.5],[0.0243,-1.3],[0.0275,0],[0.09,0]];
const modelI = [[-0.09,0],[-0.027,0],[-0.0225,-3.9],[-0.018,-7.7],[-0.009,-7.9],[0,-8.0],[0.0074,-7.9],[0.0148,-7.7],[0.0207,-3.9],[0.0265,0],[0.09,0]];
const modelJ = [[-0.09,0],[-0.0278,0],[-0.0229,-4.0],[-0.018,-7.9],[-0.009,-8.1],[0,-8.3],[0.0079,-8.1],[0.0158,-7.9],[0.0219,-4.0],[0.0279,0],[0.09,0]];
const modelK = [[-0.09,0],[-0.029,0],[-0.0236,-3.9],[-0.0182,-7.8],[-0.0091,-8.0],[0,-8.1],[0.0091,-8.0],[0.0182,-7.8],[0.0232,-3.9],[0.0282,0],[0.09,0]];
const modelL = [[-0.09,0],[-0.028,0],[-0.023,-3.9],[-0.018,-7.8],[-0.009,-8.0],[0,-8.1],[0.008,-8.0],[0.016,-7.8],[0.022,-3.9],[0.028,0],[0.09,0]];
const modelM = [[-0.09,0],[-0.0283,0],[-0.0215,-3.9],[-0.0146,-7.1],[-0.0078,-7.8],[0.0032,-8.0],[0.0087,-7.5],[0.0142,-6.2],[0.0196,-4.2],[0.0251,-1.6],[0.0278,0],[0.09,0]];
const modelN = [[-0.09,0],[-0.029,0],[-0.0233,-4.1],[-0.0175,-8.2],[-0.0088,-8.4],[0,-8.6],[0.009,-8.4],[0.018,-8.2],[0.0233,-4.1],[0.0285,0],[0.09,0]];
const modelO = [[-0.09,0],[-0.0285,0],[-0.0225,-3.8],[-0.0165,-7.5],[-0.0083,-7.7],[0,-7.9],[0.009,-7.7],[0.018,-7.5],[0.0233,-3.8],[0.0285,0],[0.09,0]];
const modelP = [[-0.09,0],[-0.0283,0],[-0.0224,-3.7],[-0.0165,-7.4],[-0.0083,-7.7],[0,-7.9],[0.0075,-7.7],[0.015,-7.4],[0.0215,-3.7],[0.028,0],[0.09,0]];
const modelQ = [[-0.09,0],[-0.029,0],[-0.0238,-3.9],[-0.0185,-7.8],[-0.0093,-7.9],[0,-8.0],[0.0083,-7.9],[0.0165,-7.8],[0.0223,-3.9],[0.028,0],[0.09,0]];
const modelR = [[-0.09,0],[-0.0285,0],[-0.0235,-3.9],[-0.0185,-7.8],[-0.0093,-7.9],[0,-8.0],[0.009,-7.9],[0.018,-7.8],[0.0228,-3.9],[0.0275,0],[0.09,0]];

const pointsLeft = [lcA, lcB, lcC, lcD, lcE, lcF, lcG, lcH, lcI];
const pointsRight = [lcJ, lcK, lcL, lcM, lcN, lcO, lcP, lcQ, lcR];
const modelsLeft = [modelA, modelB, modelC, modelD, modelE, modelF, modelG, modelH, modelI];
const modelsRight = [modelJ, modelK, modelL, modelM, modelN, modelO, modelP, modelQ, modelR];

Chart.defaults.font.family = '"DejaVu Sans", sans-serif';
Chart.defaults.font.size = 13.5;
Chart.defaults.color = '#000';

const FONT = '13.5px "DejaVu Sans", sans-serif';
const LABEL_PHASE = -0.0848;
const LABEL_LIFT = 0.0047;

// box, tick marks and panel letters
const framePlugin = {
    id: 'frame',
    afterDraw(chart, args, opts) {
        const ctx = chart.ctx;
        const a = chart.chartArea;
        const xs = chart.scales.x;
        const ys = chart.scales.y;
        ctx.save();
        ctx.strokeStyle = '#000';
        ctx.lineWidth = 1;
        ctx.strokeRect(a.left, a.top, a.right - a.left, a.bottom - a.top);
        const seg = (x1, y1, x2, y2) => { ctx.beginPath(); ctx.moveTo(x1, y1); ctx.lineTo(x2, y2); ctx.stroke(); };
        xMajorTicks.forEach(v => { const p = xs.getPixelForValue(v); seg(p, a.bottom, p, a.bottom + 4.9); });
        xMinorTicks.forEach(v => { const p = xs.getPixelForValue(v); seg(p, a.bottom, p, a.bottom + 2.8); });
        yMajorTicks.forEach(v => { const p = ys.getPixelForValue(v); seg(a.left, p, a.left - 4.9, p); });
        yMinorTicks.forEach(v => { const p = ys.getPixelForValue(v); seg(a.left, p, a.left - 2.8, p); });
        ctx.fillStyle = '#000';
        ctx.font = FONT;
        ctx.textAlign = 'left';
        ctx.textBaseline = 'alphabetic';
        opts.letters.forEach((letter, i) => {
            ctx.fillText(letter, xs.getPixelForValue(LABEL_PHASE), ys.getPixelForValue(1 - curveOffsets[i] + LABEL_LIFT));
        });
        ctx.restore();
    }
};

function buildPanel(canvasId, letters, pointSets, models, errs, padRight) {
    const datasets = [];
    letters.forEach((letter, i) => {
        const base = 1 - curveOffsets[i];
        datasets.push({
            type: 'line',
            data: models[i].map(p => ({ x: p[0], y: base + p[1] / 1000 })),
            borderColor: '#0000ff',
            borderWidth: 2,
            pointRadius: 0,
            showLine: true,
            fill: false,
            cubicInterpolationMode: 'monotone',
            order: 0
        });
        const bars = [];
        pointSets[i].forEach(p => {
            const e = (p[2] !== undefined ? p[2] : errs[i]) / 1000;
            const y = base + p[1] / 1000;
            bars.push({ x: p[0], y: y - e }, { x: p[0], y: y + e }, { x: p[0], y: null });
        });
        datasets.push({
            type: 'line',
            data: bars,
            borderColor: 'rgba(120,120,120,0.75)',
            borderWidth: 1.5,
            pointRadius: 0,
            showLine: true,
            spanGaps: false,
            fill: false,
            order: 2
        });
        datasets.push({
            type: 'scatter',
            data: pointSets[i].map(p => ({ x: p[0], y: base + p[1] / 1000 })),
            backgroundColor: '#000',
            borderWidth: 0,
            pointRadius: 1.6,
            order: 1
        });
    });

    new Chart(document.getElementById(canvasId), {
        type: 'scatter',
        data: { datasets: datasets },
        plugins: [framePlugin],
        options: {
            responsive: false,
            animation: false,
            events: [],
            layout: { padding: { top: 13.3, right: padRight, bottom: 0, left: 0 } },
            plugins: {
                legend: { display: false },
                tooltip: { enabled: false },
                frame: { letters: letters }
            },
            scales: {
                x: {
                    type: 'linear',
                    min: -0.09,
                    max: 0.09,
                    afterBuildTicks: s => { s.ticks = xMajorTicks.map(v => ({ value: v })); },
                    afterFit: s => { s.height = 53.3; },
                    ticks: {
                        autoSkip: false,
                        maxRotation: 0,
                        padding: 3.5,
                        callback: (v, idx) => xTickLabels[idx]
                    },
                    grid: { drawOnChartArea: false, drawTicks: true, tickLength: 5, tickColor: 'rgba(0,0,0,0)' },
                    border: { display: false },
                    title: { display: true, text: 'Phase', padding: { top: 0, bottom: 9 } }
                },
                y: {
                    type: 'linear',
                    min: 0.7752,
                    max: 1.0147,
                    afterBuildTicks: s => { s.ticks = yMajorTicks.map(v => ({ value: v })); },
                    afterFit: s => { s.width = 70.3; },
                    ticks: {
                        autoSkip: false,
                        padding: 6,
                        callback: (v, idx) => yTickLabels[idx]
                    },
                    grid: { drawOnChartArea: false, drawTicks: true, tickLength: 5, tickColor: 'rgba(0,0,0,0)' },
                    border: { display: false },
                    title: { display: true, text: 'Normalized Flux', padding: { top: 8.4, bottom: 0 } }
                }
            }
        }
    });
}

buildPanel('leftPanel', lettersLeft, pointsLeft, modelsLeft, errLeft, 10.7);
buildPanel('rightPanel', lettersRight, pointsRight, modelsRight, errRight, 12.5);
</script>
</body>
</html>
